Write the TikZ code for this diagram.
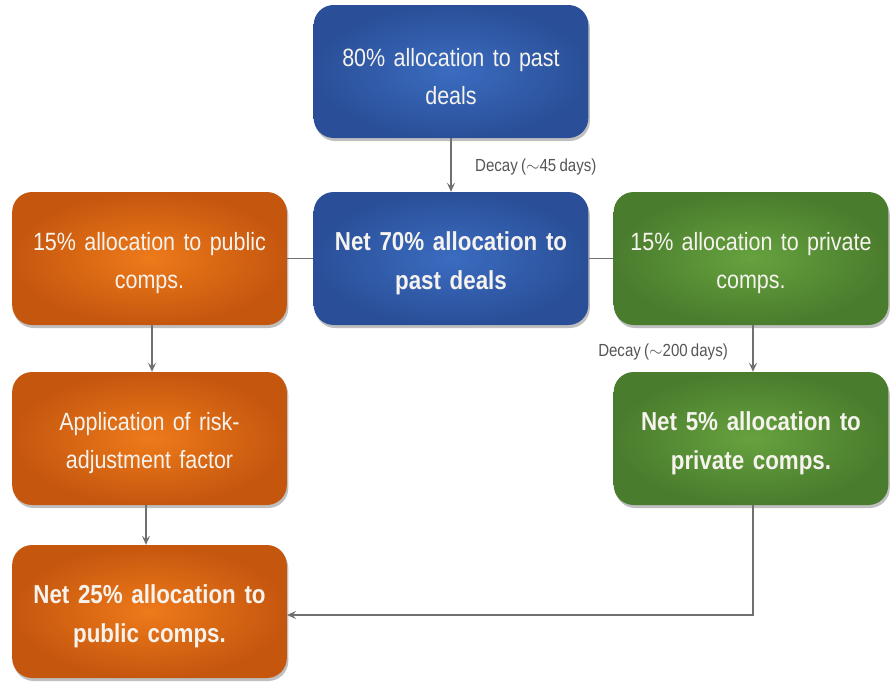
\documentclass[tikz,border=0pt]{standalone}
\usepackage{fontspec}
\setmainfont{Liberation Sans}[FakeStretch=0.86, WordSpace=0.78]
\usetikzlibrary{arrows.meta,shadows}

\definecolor{blueIn}{HTML}{3B6CC0}
\definecolor{blueOut}{HTML}{2A4F98}
\definecolor{orangeIn}{HTML}{EE7A1A}
\definecolor{orangeOut}{HTML}{C5560E}
\definecolor{greenIn}{HTML}{66A23E}
\definecolor{greenOut}{HTML}{4A7C2D}
\definecolor{linkgray}{HTML}{707070}
\definecolor{labelgray}{HTML}{555555}
\definecolor{boxtext}{HTML}{F6F3EE}

\tikzset{
  box/.style={rectangle, rounded corners=20pt, minimum width=273pt,
    minimum height=133pt, text width=268pt, align=center,
    text=boxtext, font=\fontsize{25}{38}\selectfont,
    execute at begin node={\hyphenpenalty=10000\rule{0pt}{28pt}},
    drop shadow={shadow xshift=1.5pt, shadow yshift=-3pt, opacity=0.25, fill=black}},
  bluebox/.style={box, shading=radial, inner color=blueIn, outer color=blueOut},
  orangebox/.style={box, shading=radial, inner color=orangeIn, outer color=orangeOut},
  greenbox/.style={box, shading=radial, inner color=greenIn, outer color=greenOut},
  strong/.style={font=\fontsize{26}{39}\selectfont\bfseries},
  link/.style={draw=linkgray, line width=1.2pt},
  arrowlink/.style={link, -{Stealth[length=9pt, width=8pt, inset=3.5pt]}},
  note/.style={text=labelgray, font=\fontsize{17.5}{19}\selectfont, inner sep=0pt}
}

\begin{document}
\begin{tikzpicture}[x=1pt, y=-1pt]
  \useasboundingbox (0,0) rectangle (890,681);

  % boxes
  \node[bluebox] (past) at (451,71.5) {80\% allocation to past\\deals};
  \node[bluebox, strong] (netpast) at (451,258.5) {Net 70\% allocation to\\past deals};
  \node[orangebox] (pub) at (149.5,258.5) {15\% allocation to public\\comps.};
  \node[greenbox] (priv) at (751,258.5) {15\% allocation to private\\comps.};
  \node[orangebox] (risk) at (149.5,438.5) {Application of risk-\\adjustment factor};
  \node[greenbox, strong] (netpriv) at (751,438.5) {Net 5\% allocation to\\private comps.};
  \node[orangebox, strong] (netpub) at (149.5,611.5) {Net 25\% allocation to\\public comps.};

  % connectors
  \draw[arrowlink] (past) -- (netpast);
  \draw[link] (pub) -- (netpast);
  \draw[link] (priv) -- (netpast);
  \draw[arrowlink] ([xshift=2.5pt]pub.south) -- ([xshift=2.5pt]risk.north);
  \draw[arrowlink] ([xshift=-3.5pt]risk.south) -- ([xshift=-3.5pt]netpub.north);
  \draw[arrowlink] ([xshift=2pt]priv.south) -- ([xshift=2pt]netpriv.north);
  \coordinate (bend) at ([xshift=2pt]netpriv.south |- 0,615);
  \draw[arrowlink] ([xshift=2pt]netpriv.south) -- (bend) -- (bend -| netpub.east);

  % decay labels
  \node[note, anchor=west] (decay45) at (475,167) {Decay ($\sim$45 days)};
  \node[note, anchor=east] (decay200) at (728,352) {Decay ($\sim$200 days)};
\end{tikzpicture}
\end{document}
